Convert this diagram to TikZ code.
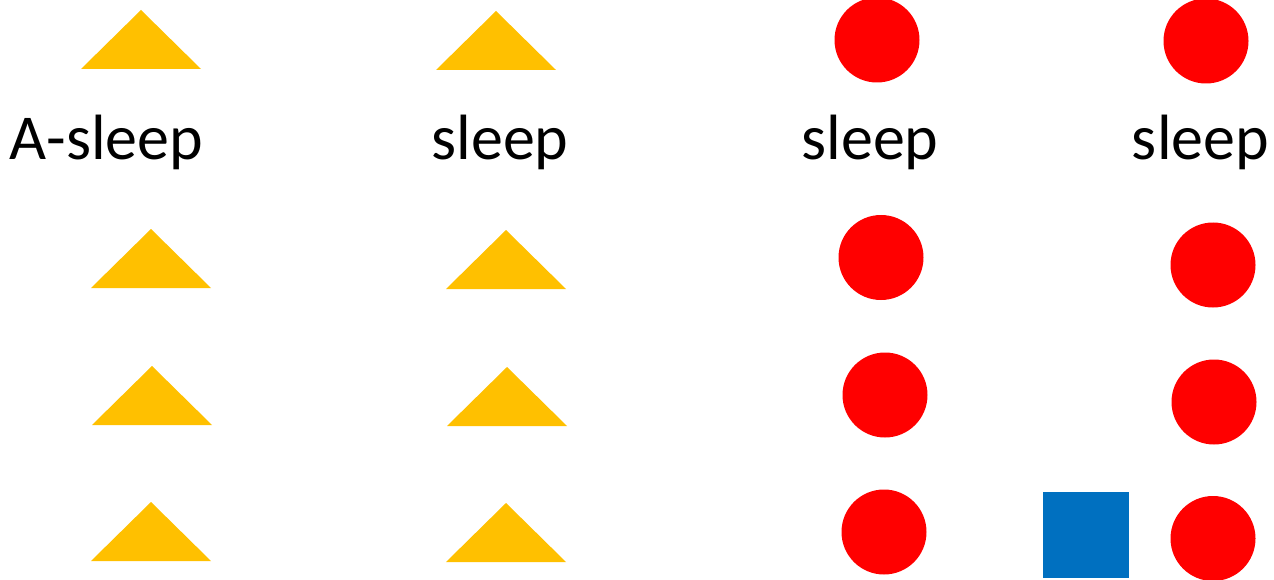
\documentclass[tikz,border=0pt]{standalone}
\usepackage{fontspec}
\setmainfont{Carlito}
\usepackage{xcolor}
\usetikzlibrary{positioning}
\definecolor{triyellow}{HTML}{FFC000}
\definecolor{dotred}{HTML}{FF0000}
\definecolor{boxblue}{HTML}{0070C0}

\begin{document}
\begin{tikzpicture}[
    x=1pt, y=-1pt,
    tri/.style={fill=triyellow},
    dot/.style={circle, fill=dotred, minimum size=85pt, inner sep=0pt},
    sq/.style={rectangle, fill=boxblue, minimum size=86pt, inner sep=0pt},
    lbl/.style={anchor=base, inner sep=0pt, font=\fontsize{64}{72}\selectfont},
]
\useasboundingbox (0,0) rectangle (1274,580);

% Column 1: triangles
\fill[tri] (141,10) -- ++(-60,59) -- ++(120,0) -- cycle;
\fill[tri] (151,229) -- ++(-60,59) -- ++(120,0) -- cycle;
\fill[tri] (152,366) -- ++(-60,59) -- ++(120,0) -- cycle;
\fill[tri] (151,502) -- ++(-60,59) -- ++(120,0) -- cycle;

% Column 2: triangles
\fill[tri] (496,11) -- ++(-60,59) -- ++(120,0) -- cycle;
\fill[tri] (506,230) -- ++(-60,59) -- ++(120,0) -- cycle;
\fill[tri] (507,367) -- ++(-60,59) -- ++(120,0) -- cycle;
\fill[tri] (506,503) -- ++(-60,59) -- ++(120,0) -- cycle;

% Column 3: circles
\node[dot] (c3a) at (877,40) {};
\node[dot] (c3b) at (881,257.5) {};
\node[dot] (c3c) at (885,395) {};
\node[dot] (c3d) at (884,532) {};

% Column 4: circles and square
\node[dot] (c4a) at (1206,41) {};
\node[dot] (c4b) at (1213,265) {};
\node[dot] (c4c) at (1214,402) {};
\node[dot] (c4d) at (1213,538.5) {};
\node[sq] (blk) at (1086,535) {};

% Labels
\node[lbl] (l1) at (106.5,160) {A-sleep};
\node[lbl] (l2) at (500,160) {sleep};
\node[lbl] (l3) at (870,160) {sleep};
\node[lbl] (l4) at (1200.5,160) {sleep};

\end{tikzpicture}
\end{document}
